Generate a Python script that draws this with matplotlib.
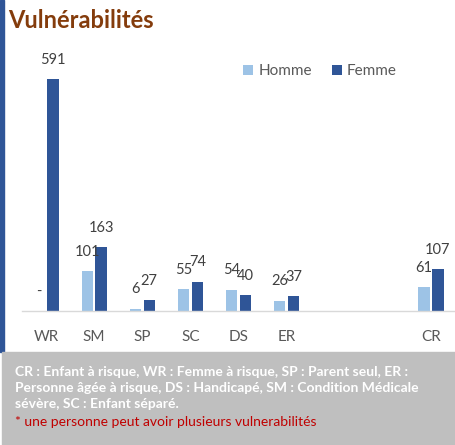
import matplotlib
matplotlib.use("Agg")
import matplotlib.pyplot as plt
from matplotlib.patches import Rectangle
import numpy as np

plt.rcParams['font.family'] = ['Lato', 'DejaVu Sans']

# data
categories = ["WR", "SM", "SP", "SC", "DS", "ER", "", "", "CR"]
homme = [0, 101, 6, 55, 54, 26, None, None, 61]
femme = [591, 163, 27, 74, 40, 37, None, None, 107]

COLORS = {
    "homme": "#9DC3E6",
    "femme": "#2F5597",
    "title": "#843C0C",
    "label": "#404040",
    "tick": "#595959",
    "axis": "#D9D9D9",
    "box": "#BFBFBF",
    "note": "#C00000",
}

W, H = 455, 445
fig = plt.figure(figsize=(W / 100, H / 100), dpi=100, facecolor="white")

def px(x, y):
    # pixel coords (from top-left) -> figure fraction
    return x / W, 1 - y / H

# left accent bar and bottom note box
fig.patches.append(Rectangle(px(0, 352), 4 / W, 352 / H, transform=fig.transFigure,
                             color=COLORS["femme"], zorder=0))
fig.patches.append(Rectangle((2 / W, 0), 1, 93 / H, transform=fig.transFigure,
                             color=COLORS["box"], zorder=0))

# title
fig.text(*px(8, 20), "Vulnérabilités", fontsize=17, fontweight="bold",
         color=COLORS["title"], va="center", ha="left")

# main axes
left, base, top = 22, 311, 56
ax = fig.add_axes([left / W, 1 - base / H, (W - left) / W, (base - top) / H])
x = np.arange(len(categories))
bw = 0.235
off = 0.145

hx = [xi - off for xi, v in zip(x, homme) if v is not None]
hv = [v for v in homme if v is not None]
fx = [xi + off for xi, v in zip(x, femme) if v is not None]
fv = [v for v in femme if v is not None]

ax.bar(hx, hv, width=bw, color=COLORS["homme"], label="Homme")
ax.bar(fx, fv, width=bw, color=COLORS["femme"], label="Femme")

for xs, vs in ((hx, hv), (fx, fv)):
    for xi, v in zip(xs, vs):
        txt = "-" if v == 0 else str(v)
        ax.annotate(txt, (xi, v), xytext=(0, 9), textcoords="offset points",
                    ha="center", va="bottom", fontsize=10.5, color=COLORS["label"])

ax.set_xlim(-0.5, len(categories) - 0.5)
ax.set_ylim(0, 650)
ax.set_xticks(x)
ax.set_xticklabels(categories, fontsize=11, color=COLORS["tick"])
ax.tick_params(axis="x", length=0, pad=14)
ax.set_yticks([])
for side in ("top", "right", "left"):
    ax.spines[side].set_visible(False)
ax.spines["bottom"].set_color(COLORS["axis"])
ax.spines["bottom"].set_linewidth(1)

leg = ax.legend(loc="center left", bbox_to_anchor=px(243, 71), bbox_transform=fig.transFigure,
                ncol=2, frameon=False, fontsize=11, handlelength=0.65, handleheight=0.65,
                handletextpad=0.35, columnspacing=1.3, borderpad=0, borderaxespad=0)
for t in leg.get_texts():
    t.set_color(COLORS["tick"])

# note box text
note_lines = ["CR : Enfant à risque, WR : Femme à risque, SP : Parent seul, ER :",
              "Personne âgée à risque, DS : Handicapé, SM : Condition Médicale",
              "sévère, SC : Enfant séparé."]
for i, line in enumerate(note_lines):
    fig.text(*px(15, 372 + 16 * i), line, fontsize=10, fontweight="bold",
             color="white", va="center", ha="left")
fig.text(*px(15, 422), "* une personne peut avoir plusieurs vulnerabilités",
         fontsize=10, color=COLORS["note"], va="center", ha="left")

fig.savefig("out.png", dpi=100, facecolor="white")
